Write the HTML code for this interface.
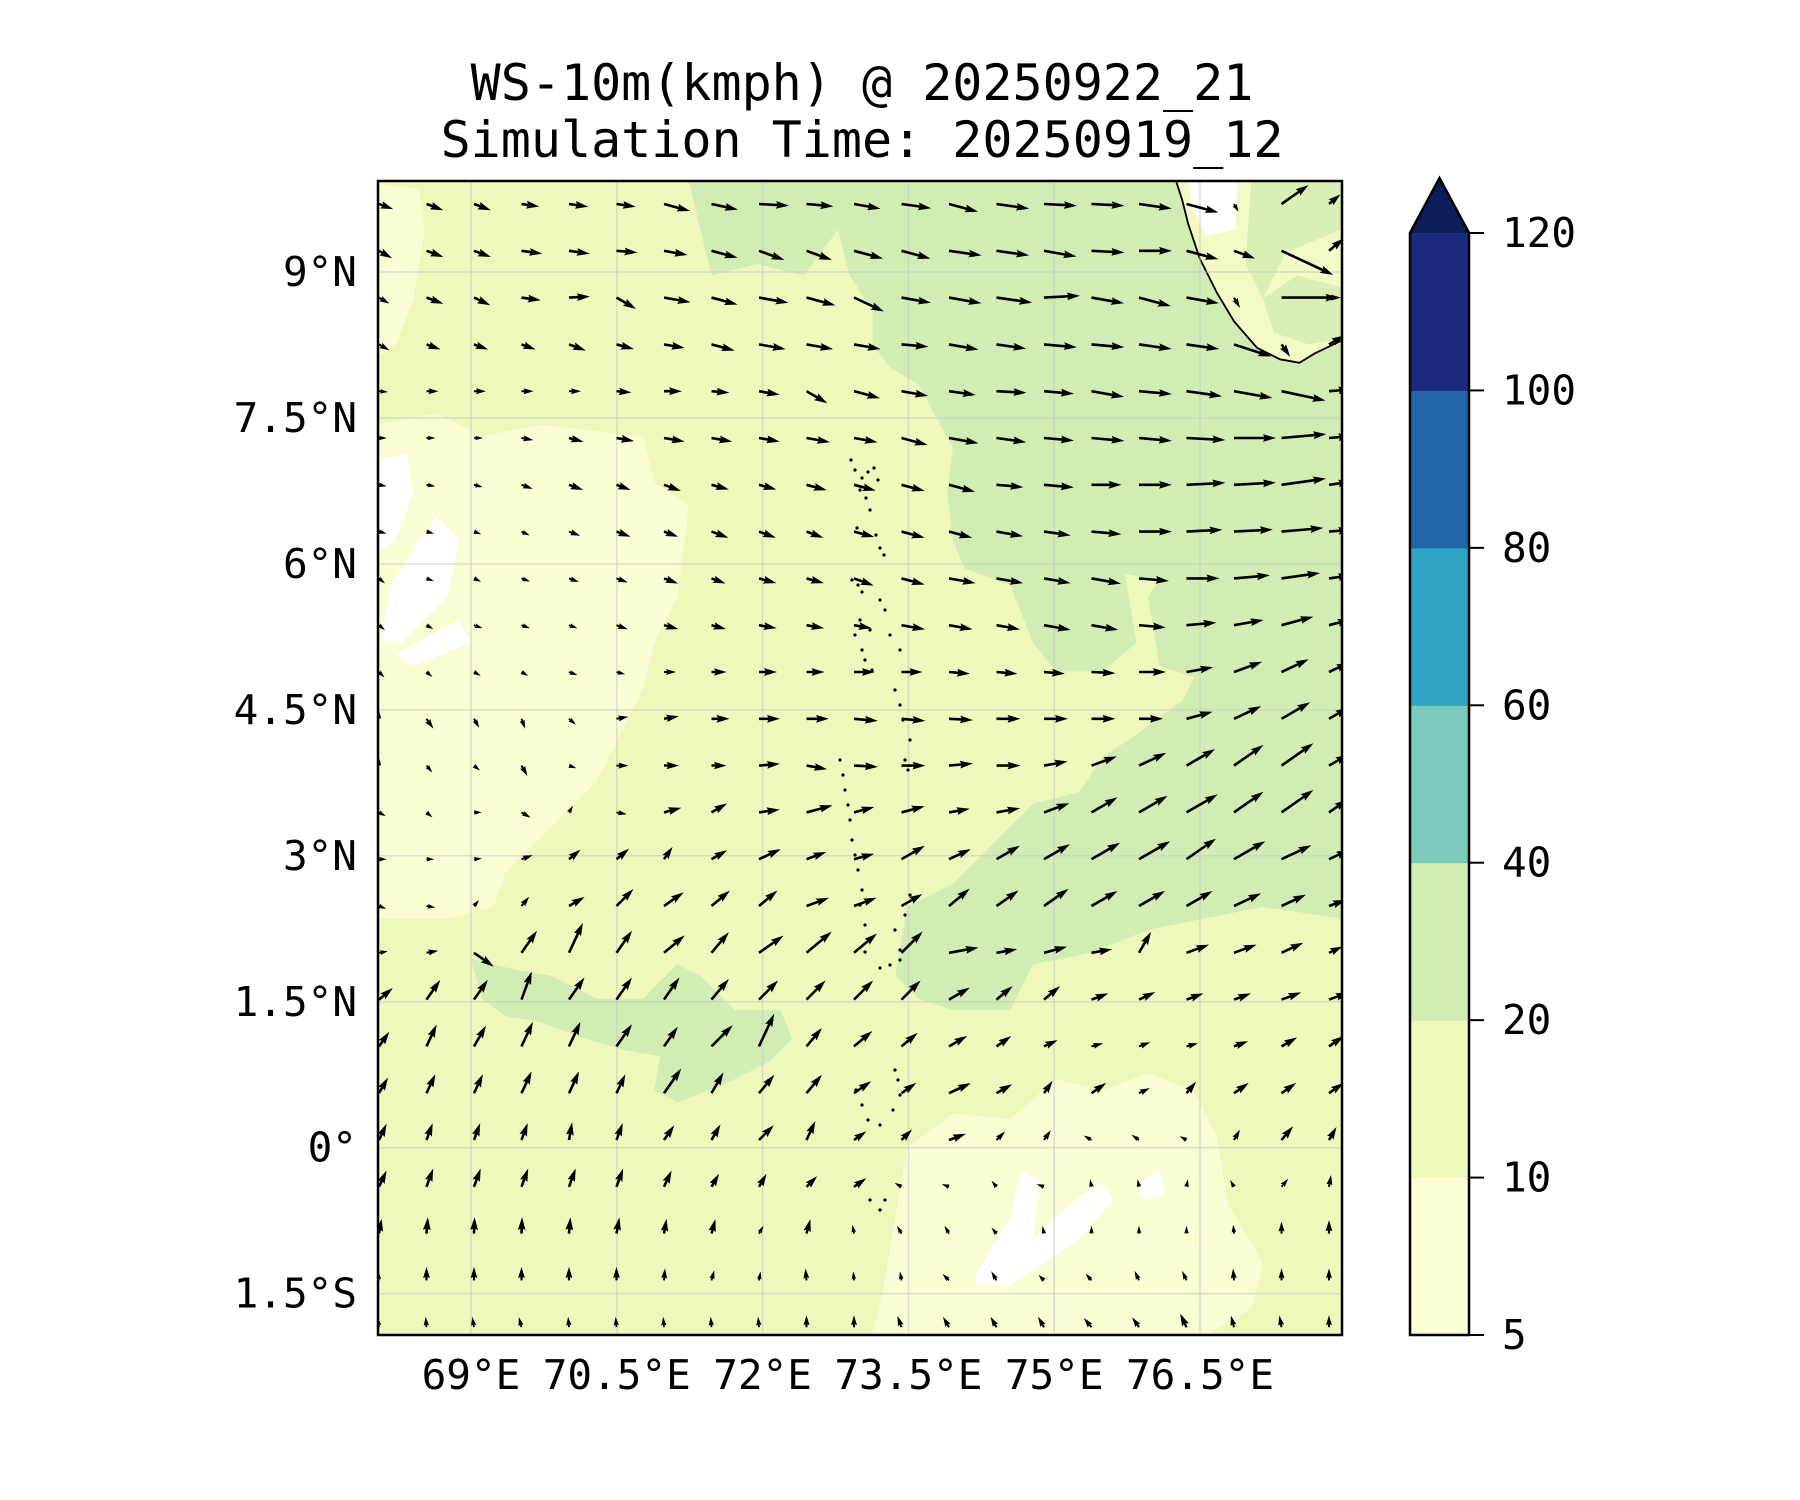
<!DOCTYPE html>
<html><head><meta charset="utf-8">
<style>
html,body{margin:0;padding:0;background:#fff;}
svg{display:block;}
text{font-family:"DejaVu Sans Mono","Liberation Mono",monospace;fill:#000;}
</style></head>
<body>
<svg id="fig" width="1800" height="1500" viewBox="0 0 1800 1500" xmlns="http://www.w3.org/2000/svg">
<rect x="0" y="0" width="1800" height="1500" fill="#ffffff"/>
<text x="862" y="100" font-size="50" text-anchor="middle">WS-10m(kmph) @ 20250922_21</text>
<text x="862" y="157" font-size="50" text-anchor="middle">Simulation Time: 20250919_12</text>
<defs><clipPath id="pc"><rect x="378" y="181" width="964" height="1154"/></clipPath></defs>
<g clip-path="url(#pc)">
 <g transform="scale(1.148)">
  <rect x="320" y="150" width="860" height="1020" fill="#eff8bb"/>
  <polygon fill="#fafdd3" points="330,370 380,360 420,380 470,370 560,380 570,420 600,440 590,520 570,560 560,600 540,640 520,680 480,720 440,760 430,790 390,800 330,800"/>
  <polygon fill="#fafdd3" points="330,160 365,165 370,200 360,260 345,300 330,310"/>
  <polygon fill="#fafdd3" points="790,1000 830,970 880,975 920,940 960,950 1000,935 1040,950 1060,990 1070,1050 1100,1100 1090,1140 1050,1163 760,1163 770,1120 780,1060"/>
  <polygon fill="#ffffff" points="330,400 355,395 360,430 345,470 330,480"/>
  <polygon fill="#ffffff" points="340,510 380,450 400,470 390,520 350,560 332,560"/>
  <polygon fill="#ffffff" points="345,570 400,540 410,560 360,580"/>
  <polygon fill="#ffffff" points="850,1110 880,1060 890,1020 905,1030 900,1080 930,1050 960,1030 970,1045 940,1080 880,1120 850,1120"/>
  <polygon fill="#ffffff" points="990,1030 1010,1020 1015,1040 995,1045"/>
  <polygon fill="#d2edb3" points="720,157 1168,157 1168,800 1100,790 1050,800 1000,810 950,830 900,840 880,880 830,880 800,870 780,850 790,790 830,770 860,740 900,700 940,690 960,660 990,640 1030,610 1040,590 1010,580 1000,520 1010,505 980,500 990,560 960,585 920,585 900,560 880,510 840,495 830,470 825,430 830,390 800,335 775,320 760,300 760,270 740,240 730,200"/>
  <polygon fill="#d2edb3" points="600,157 720,157 730,200 700,240 660,230 620,240 610,200"/>
  <polygon fill="#d2edb3" points="410,835 450,845 480,850 520,870 560,870 590,840 610,850 640,880 680,880 690,905 670,925 630,945 590,960 570,950 575,920 545,915 510,905 470,890 440,885 420,870"/>
  <polygon fill="#f3fac5" points="1022,150 1030,175 1035,195 1045,225 1060,255 1075,280 1095,303 1115,313 1132,316 1145,308 1180,295 1180,150"/>
  <polygon fill="#ffffff" points="1035,157 1078,157 1076,200 1050,206 1038,180"/>
  <polygon fill="#d9efb6" points="1090,157 1168,157 1168,200 1120,220 1100,260 1085,230"/>
  <polygon fill="#d9efb6" points="1100,260 1130,240 1168,250 1168,295 1140,300 1110,290"/>
  <polyline fill="none" stroke="#000" stroke-width="1.6" points="1022,150 1030,175 1035,195 1045,225 1060,255 1075,280 1095,303 1115,313 1132,316 1145,308 1168,297"/>
 </g>
 <g stroke="#c8c8c8" stroke-opacity="0.6" stroke-width="1.5" id="grid"></g>
 <g id="isl" fill="#000"></g>
 <g id="quiv" fill="#000"></g>
</g>
<rect x="378" y="181" width="964" height="1154" fill="none" stroke="#000" stroke-width="2.5"/>
<g id="ticks"></g>
<g id="cbar"></g>
<script>
// ---------- data ----------
const lonTicks=[69,70.5,72,73.5,75,76.5];
const lonLabels=["69°E","70.5°E","72°E","73.5°E","75°E","76.5°E"];
const latTicks=[9,7.5,6,4.5,3,1.5,0,-1.5];
const latLabels=["9°N","7.5°N","6°N","4.5°N","3°N","1.5°N","0°","1.5°S"];
const cbLevels=[5,10,20,40,60,80,100,120];
const cbColors=["#fcfed6","#eff8bb","#d2edb3","#7bcbbd","#2fa4c5","#2166ab","#1c2b7f"];
const cbExtendColor="#0b1e57";
// wind direction (deg, 0=east, CCW) per row (north->south), 21 columns
const ang0=[-20,-20,-20,-8,-8,-8,-15,-12,-3,-5,-10,-8,-15,-8,-3,-3,-8,-15,-60,35,40];
const ang1=[-30,-20,-20,-8,-8,-5,-10,-15,-20,-20,-15,-15,-8,-8,-10,-3,0,-15,-20,-25,40];
const ang2=[-30,-20,-25,-8,3,-30,-10,-15,-10,-15,-25,-10,-10,-8,3,-10,-15,-10,-60,0,0];
const ang3=[-30,-20,-20,-20,-20,-15,-10,-15,-10,-10,-10,-5,-10,-8,-5,-5,-8,-8,-18,-55,30];
const ang4=[-5,0,0,0,0,-5,0,-5,-10,-30,-15,-10,-8,-3,-5,-10,-5,-8,-10,-12,5];
const ang5=[0,0,0,-10,-15,-10,-10,-10,-10,-10,-10,-15,-10,-8,-5,-5,-5,-3,0,5,5];
const ang6=[-10,-10,-15,-20,-20,-20,-20,-15,-15,-15,-15,-15,-15,-5,-5,0,0,3,3,8,8];
const ang7=[-15,-15,-20,-25,-20,-20,-20,-20,-20,-20,-15,-15,-15,-10,-8,-5,0,3,3,5,5];
const ang8=[-40,-20,-25,-20,-20,-20,-20,-20,-15,-15,-20,-15,-10,-10,-10,-10,-5,0,5,8,8];
const ang9=[-40,-30,-20,-20,-20,-20,-15,-15,-10,-10,-10,-10,-10,-10,-10,-10,-5,5,10,15,15];
const ang10=[-45,-40,-30,-30,-20,-15,0,0,0,0,0,0,-5,-5,-5,-3,0,10,20,25,25];
const ang11=[90,-55,-60,-70,-40,10,10,0,0,0,-5,-5,-3,0,0,0,0,15,25,30,30];
const ang12=[90,-50,-40,-60,-20,0,0,0,5,-10,-3,0,5,0,10,20,25,30,35,35,30];
const ang13=[-30,-40,0,-30,60,-10,15,30,8,15,15,15,10,10,20,30,30,30,35,35,35];
const ang14=[0,0,5,20,40,40,55,30,25,20,15,30,25,30,30,30,30,35,30,25,25];
const ang15=[-20,-10,50,50,30,45,35,40,40,20,20,30,40,35,35,30,30,30,25,25,20];
const ang16=[10,10,-35,55,65,55,40,50,35,40,40,45,10,10,15,10,60,20,20,25,25];
const ang17=[40,55,55,70,55,55,55,50,45,45,45,45,30,40,40,20,25,20,20,20,20];
const ang18=[55,65,60,65,65,55,55,45,65,50,40,40,30,35,25,15,20,15,20,30,35];
const ang19=[60,65,65,65,65,65,55,60,50,50,35,35,25,30,55,35,25,50,35,35,35];
const ang20=[65,70,70,70,80,70,55,60,45,65,35,45,20,45,55,150,145,150,60,50,60];
const ang21=[65,70,70,70,70,70,65,60,60,45,35,150,160,130,160,100,100,80,120,50,80];
const ang22=[80,85,88,88,85,80,80,75,60,75,100,120,120,130,100,90,90,90,95,90,90];
const ang23=[95,90,90,90,90,90,85,75,80,95,95,100,135,120,135,130,115,115,95,90,90];
const ang24=[100,95,100,105,95,95,95,95,95,90,90,110,120,120,120,130,125,115,105,100,90];
// wind speed (kmph) per row
const spd0=[10,12,12,12,13,13,18,18,20,18,18,20,20,22,22,22,22,22,6,22,10];
const spd1=[10,12,12,14,14,14,16,18,18,18,20,20,22,22,22,22,22,22,15,38,13];
const spd2=[8,12,12,13,14,15,18,18,20,20,22,20,22,24,24,22,22,22,8,38,8];
const spd3=[8,10,10,10,12,12,14,16,18,18,18,18,20,20,22,22,22,22,26,10,12];
const spd4=[6,8,8,8,8,10,12,12,14,16,18,18,18,20,20,22,22,24,26,30,15];
const spd5=[5,6,6,8,10,12,14,14,14,16,16,18,20,20,20,22,22,26,28,30,15];
const spd6=[5,6,6,8,10,10,12,12,12,14,15,16,18,18,20,20,22,26,28,30,15];
const spd7=[5,5,5,6,8,10,10,12,12,12,14,16,16,18,18,20,22,24,26,28,15];
const spd8=[4,5,5,6,7,8,10,10,12,12,14,16,18,18,18,20,20,22,24,26,15];
const spd9=[4,5,6,6,6,8,10,10,12,12,12,16,16,16,18,18,18,20,20,22,15];
const spd10=[4,5,5,5,6,6,8,10,12,12,14,14,14,14,14,16,18,18,20,20,15];
const spd11=[4,8,7,7,6,8,10,12,14,15,16,16,16,16,16,16,16,18,20,22,15];
const spd12=[4,6,4,8,5,8,10,10,14,14,16,16,16,16,16,18,20,22,24,26,15];
const spd13=[4,4,3,7,4,7,12,12,14,18,14,16,14,16,18,20,22,24,24,26,15];
const spd14=[4,4,5,8,10,11,10,12,16,14,14,18,16,18,20,22,24,24,24,22,15];
const spd15=[4,6,4,8,12,16,16,16,16,16,16,16,18,18,20,20,20,20,20,18,12];
const spd16=[6,8,16,18,22,18,18,18,20,22,20,20,20,14,16,14,16,16,16,16,10];
const spd17=[12,16,16,20,18,18,18,18,18,18,18,18,16,14,14,12,12,12,12,14,14];
const spd18=[12,16,16,18,18,18,16,20,24,16,16,14,14,12,10,8,8,8,10,12,12];
const spd19=[12,14,14,16,16,14,20,16,16,16,14,12,16,12,10,12,8,10,12,12,12];
const spd20=[12,12,12,12,12,12,12,12,14,14,10,10,12,8,8,6,6,5,8,12,10];
const spd21=[12,13,13,13,13,13,12,10,10,10,10,5,5,5,5,4,4,5,5,7,8];
const spd22=[10,11,11,11,11,11,10,10,6,10,6,6,6,3,4,5,5,5,6,8,9];
const spd23=[6,9,9,9,9,9,8,7,6,8,6,6,6,7,5,6,7,7,8,8,8];
const spd24=[7,7,7,7,7,7,7,7,7,8,8,8,8,8,8,8,8,10,8,8,8];
const angRows=[ang0,ang1,ang2,ang3,ang4,ang5,ang6,ang7,ang8,ang9,ang10,ang11,ang12,ang13,ang14,ang15,ang16,ang17,ang18,ang19,ang20,ang21,ang22,ang23,ang24];
const spdRows=[spd0,spd1,spd2,spd3,spd4,spd5,spd6,spd7,spd8,spd9,spd10,spd11,spd12,spd13,spd14,spd15,spd16,spd17,spd18,spd19,spd20,spd21,spd22,spd23,spd24];

// ---------- axes ----------
const NS="http://www.w3.org/2000/svg";
const xOf=lon=>471+(lon-69)*97.2;
const yOf=lat=>272-(lat-9)*97.3;
function mk(tag,attrs,parent){const e=document.createElementNS(NS,tag);for(const k in attrs)e.setAttribute(k,attrs[k]);parent.appendChild(e);return e;}
const grid=document.getElementById('grid');
lonTicks.forEach(v=>{const l=mk('line',{x1:xOf(v),x2:xOf(v),y1:181,y2:1335},grid);

});
latTicks.forEach(v=>{const l=mk('line',{x1:378,x2:1342,y1:yOf(v),y2:yOf(v)},grid);

});
const ticks=document.getElementById('ticks');
lonTicks.forEach((v,i)=>{const t=mk('text',{x:xOf(v),y:1389,'font-size':41,'text-anchor':'middle'},ticks);t.textContent=lonLabels[i];

});
latTicks.forEach((v,i)=>{const t=mk('text',{x:357,y:yOf(v)+14,'font-size':41,'text-anchor':'end'},ticks);t.textContent=latLabels[i];

});

// ---------- islands ----------
const isl=document.getElementById('isl');
const islPts=[[851,460],[855,470],[862,478],[868,472],[874,468],[878,480],[860,490],[866,498],[870,510],[857,528],[876,535],[880,548],[884,555],[852,580],[858,585],[862,592],[880,600],[885,610],[860,620],[855,635],[870,630],[890,635],[862,650],[900,650],[865,660],[872,670],[895,690],[900,705],[903,720],[910,740],[905,760],[908,770],[840,760],[843,775],[845,790],[848,805],[850,820],[852,840],[855,855],[858,870],[862,890],[860,905],[910,895],[905,915],[865,925],[870,940],[895,930],[900,950],[900,960],[890,965],[880,968],[865,952],[895,1070],[898,1080],[900,1095],[893,1110],[880,1125],[868,1120],[862,1105],[856,1090],[870,1200],[880,1210],[885,1200]];
islPts.forEach(p=>{const c=mk('circle',{cx:p[0],cy:p[1],r:1.6},isl);

});

// ---------- quiver ----------
const q=document.getElementById('quiv');
const x0=379,dx=47.5,y0=204,dy=46.8,kScale=1.5,w=2.6;
angRows.forEach((row,r)=>{row.forEach((a,c)=>{
  const s=spdRows[r][c];const L=s*kScale;
  const hl0=5*w,hal0=4.5*w,hw0=3*w;
  const f=Math.max(0.6,Math.min(1,L/(hl0+w)));
  const hl=hl0*f,hal=hal0*f,hw=hw0*f,sw=w*Math.max(f,0.7);
  const LL=Math.max(L,hl);
  const pts=[[0,-sw/2],[LL-hal,-sw/2],[LL-hl,-hw/2],[LL,0],[LL-hl,hw/2],[LL-hal,sw/2],[0,sw/2]];
  const tx=x0+c*dx,ty=y0+r*dy;
  const th=-a*Math.PI/180;const co=Math.cos(th),si=Math.sin(th);
  const p=pts.map(([u,v])=>(tx+u*co-v*si).toFixed(1)+','+(ty+u*si+v*co).toFixed(1)).join(' ');
  const e=mk('polygon',{points:p},q);
  
  
});});

// ---------- colorbar ----------
const cb=document.getElementById('cbar');
const cbX=1410,cbW=59,cbTop=233,cbBot=1335;
const seg=(cbBot-cbTop)/(cbLevels.length-1);
cbColors.forEach((col,i)=>{const r=mk('rect',{x:cbX,y:cbBot-(i+1)*seg,width:cbW,height:seg+0.5,fill:col},cb);

});
const tri=mk('polygon',{points:`${cbX},${cbTop} ${cbX+cbW/2},178 ${cbX+cbW},${cbTop}`,fill:cbExtendColor},cb);


mk('polygon',{points:`${cbX},${cbBot} ${cbX},${cbTop} ${cbX+cbW/2},178 ${cbX+cbW},${cbTop} ${cbX+cbW},${cbBot}`,fill:'none',stroke:'#000','stroke-width':2.5},cb);
cbLevels.forEach((v,i)=>{const y=cbBot-i*seg;
  mk('line',{x1:cbX+cbW,x2:cbX+cbW+15,y1:y,y2:y,stroke:'#000','stroke-width':2},cb);
  const t=mk('text',{x:1502,y:y+14,'font-size':41},cb);t.textContent=v;
  
  });
</script>
</svg>
</body></html>
